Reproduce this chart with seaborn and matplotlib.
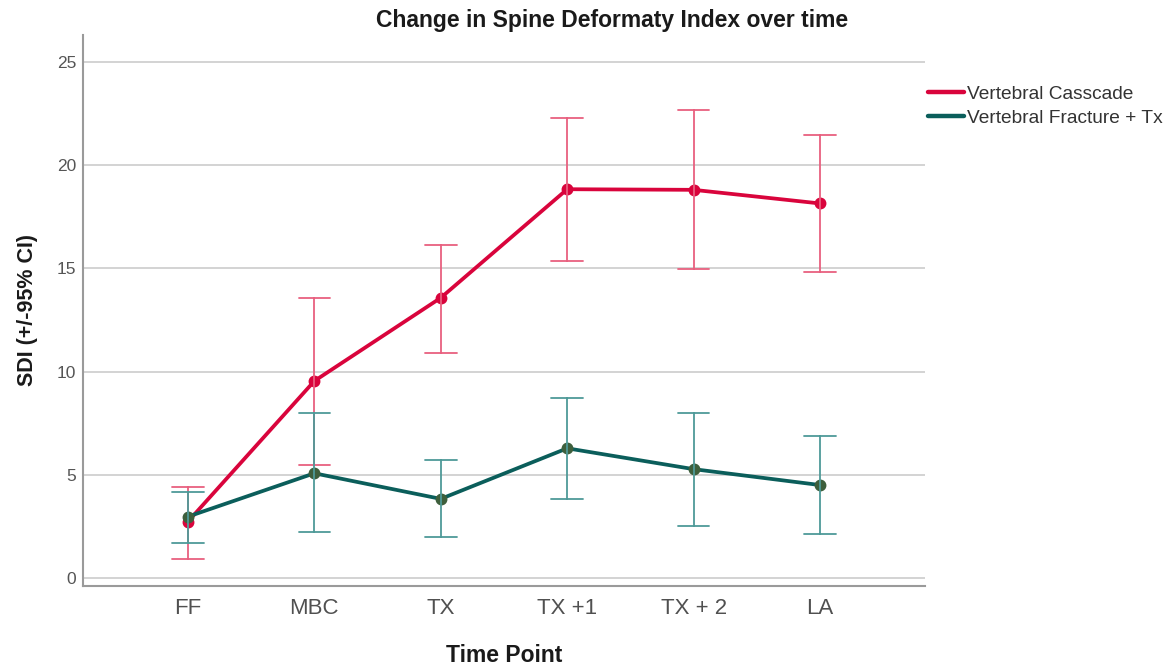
import matplotlib
matplotlib.use("Agg")
import matplotlib.pyplot as plt
from matplotlib.lines import Line2D
import seaborn as sns
import pandas as pd

# ---- data ----
time_points = ["FF", "MBC", "TX", "TX +1", "TX + 2", "LA"]
series_names = ["Vertebral Casscade", "Vertebral Fracture + Tx"]

cascade_mean = [2.73, 9.54, 13.57, 18.83, 18.80, 18.14]
cascade_low = [0.92, 5.47, 10.90, 15.33, 14.96, 14.81]
cascade_high = [4.41, 13.57, 16.13, 22.30, 22.66, 21.48]

fracture_mean = [2.97, 5.07, 3.83, 6.28, 5.27, 4.50]
fracture_low = [1.69, 2.24, 2.00, 3.81, 2.53, 2.13]
fracture_high = [4.18, 7.98, 5.72, 8.74, 7.98, 6.88]

y_ticks = [0, 5, 10, 15, 20, 25]

colors = {"Vertebral Casscade": "#d9043c", "Vertebral Fracture + Tx": "#0b5e5b"}
err_colors = {"Vertebral Casscade": "#e8607f", "Vertebral Fracture + Tx": "#4e9a98"}
marker_colors = {"Vertebral Casscade": "#d9043c", "Vertebral Fracture + Tx": "#3e5f3c"}

# long table: low / mean / high per point -> median = mean, range = CI
rows = []
for name, lo, mid, hi in [
    (series_names[0], cascade_low, cascade_mean, cascade_high),
    (series_names[1], fracture_low, fracture_mean, fracture_high),
]:
    for tp, a, b, c in zip(time_points, lo, mid, hi):
        for v in (a, b, c):
            rows.append({"Time Point": tp, "Group": name, "SDI": v})
df = pd.DataFrame(rows)

sns.set_theme(style="white")
plt.rcParams["font.family"] = ["Liberation Sans", "DejaVu Sans"]

fig = plt.figure(figsize=(11.74, 6.70), dpi=100)
ax = fig.add_axes([83 / 1174, 1 - 586 / 670, (925 - 83) / 1174, (586 - 35) / 670])

for name in series_names:
    sub = df[df["Group"] == name]
    n_before = len(ax.lines)
    sns.pointplot(
        data=sub, x="Time Point", y="SDI", order=time_points,
        estimator="median", errorbar=lambda v: (v.min(), v.max()),
        color=colors[name], capsize=0.25, markersize=6.5, linewidth=2.7,
        err_kws={"linewidth": 1.3, "color": err_colors[name]},
        ax=ax, zorder=3,
    )
    for ln in ax.lines[n_before:]:
        if ln.get_marker() not in (None, "None", "", " "):
            ln.set_markerfacecolor(marker_colors[name])
            ln.set_markeredgecolor(marker_colors[name])

ax.set_xlim(-0.83, 5.83)
ax.set_ylim(-0.39, 26.3)
ax.set_yticks(y_ticks)
ax.set_yticklabels([str(t) for t in y_ticks], fontsize=12.5, color="#555555")
ax.set_xticks(range(len(time_points)))
ax.set_xticklabels(time_points, fontsize=16, color="#505050")
ax.tick_params(axis="both", length=0)
ax.tick_params(axis="y", pad=5)
ax.tick_params(axis="x", pad=9)

ax.yaxis.grid(True, color="#cccccc", linewidth=1.2, zorder=0)
ax.xaxis.grid(False)
ax.set_axisbelow(True)
for s in ["top", "right"]:
    ax.spines[s].set_visible(False)
for s in ["left", "bottom"]:
    ax.spines[s].set_color("#9a9a9a")
    ax.spines[s].set_linewidth(1.5)

ax.set_xlabel("Time Point", fontsize=16.5, fontweight="bold", labelpad=18,
              color="#1a1a1a")
ax.set_ylabel("SDI (+/-95% CI)", fontsize=15.5, fontweight="bold", labelpad=13,
              color="#1a1a1a")

fig.text(612 / 1174, 1 - 20 / 670, "Change in Spine Deformaty Index over time",
         ha="center", va="center", fontsize=16.5, fontweight="bold", color="#1a1a1a")

handles = [Line2D([0], [0], color=colors[n], linewidth=3.2) for n in series_names]
leg = fig.legend(handles, series_names, loc="upper left",
                 bbox_to_anchor=(922 / 1174, 1 - 80 / 670), frameon=False,
                 handlelength=1.9, handletextpad=0.15, labelspacing=0.32,
                 borderaxespad=0, borderpad=0.3,
                 prop={"size": 13.8})
for t in leg.get_texts():
    t.set_color("#333333")

fig.savefig("out.png", dpi=100, facecolor="white")
